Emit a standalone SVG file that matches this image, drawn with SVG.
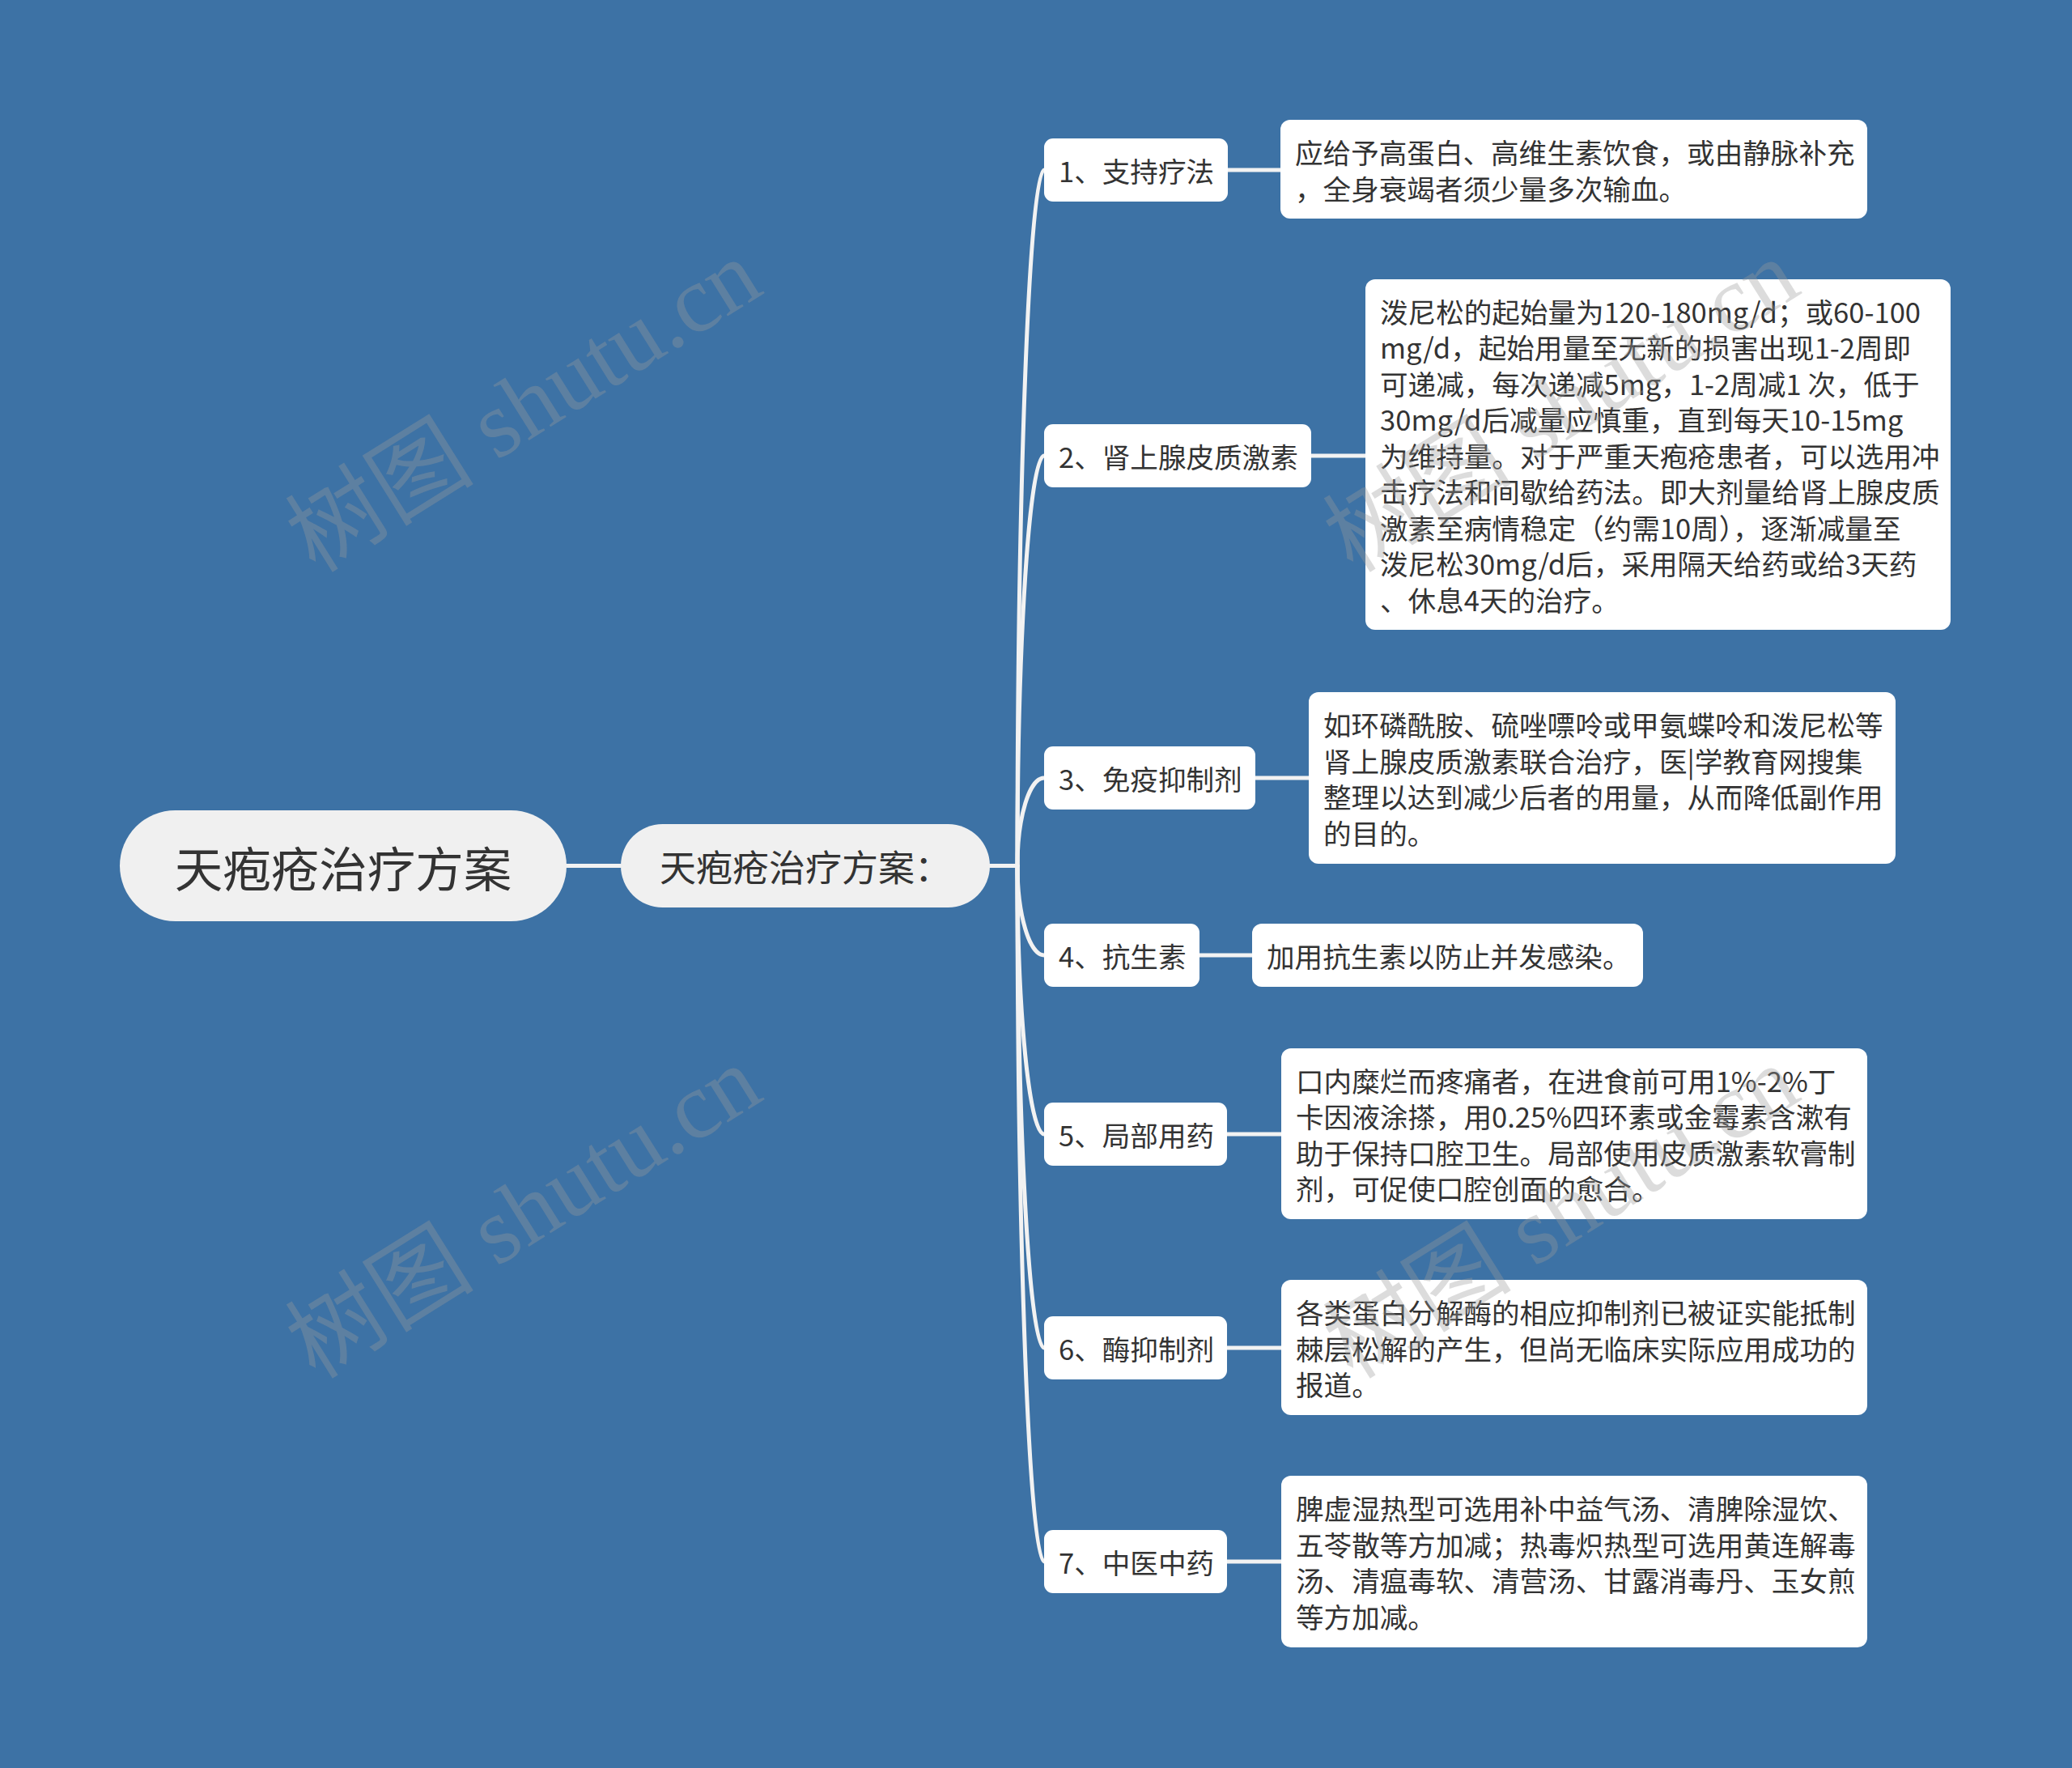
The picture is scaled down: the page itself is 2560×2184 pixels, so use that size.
<svg xmlns="http://www.w3.org/2000/svg" width="2560" height="2184" viewBox="0 0 2560 2184">
<style>
.t{font-family:"Noto Sans CJK SC","Noto Sans",sans-serif;fill:#333333;dominant-baseline:central}
.s{font-size:34.6px}
.n{fill:#ffffff}
.r{fill:#f0f0f0}
.c{fill:none;stroke:#f2f2f2;stroke-width:5;stroke-linecap:round}
.wm{font-family:"Liberation Serif","Noto Sans CJK SC",serif;font-size:117px;fill:#9a9a9a;fill-opacity:0.35}
</style>
<rect x="0" y="0" width="2560" height="2184" fill="#3d72a5"/>
<g id="connectors">
<path class="c" d="M700 1069.5 H767"/>
<path class="c" d="M1223 1069.5 H1257"/>
<path class="c" d="M1257 1069.5 C1257 595 1272 210 1290 210"/>
<path class="c" d="M1257 1069.5 C1257 790 1272 563 1290 563"/>
<path class="c" d="M1257 1069.5 C1257 1009 1272 961 1290 961"/>
<path class="c" d="M1257 1069.5 C1257 1130 1272 1180 1290 1180"/>
<path class="c" d="M1257 1069.5 C1257 1252 1272 1401 1290 1401"/>
<path class="c" d="M1257 1069.5 C1257 1398 1272 1665 1290 1665"/>
<path class="c" d="M1257 1069.5 C1257 1544 1272 1929 1290 1929"/>
<path class="c" d="M1517 210 H1582"/>
<path class="c" d="M1620 563 H1687"/>
<path class="c" d="M1551 961 H1617"/>
<path class="c" d="M1482 1180 H1547"/>
<path class="c" d="M1516 1401 H1583"/>
<path class="c" d="M1516 1665 H1583"/>
<path class="c" d="M1516 1929 H1583"/>
</g>
<g id="root">
<rect class="r" x="148" y="1001" width="552" height="137" rx="68.5"/>
<text class="t" x="424" y="1069.5" font-size="59.5" text-anchor="middle">天疱疮治疗方案</text>
</g>
<g id="sub">
<rect class="r" x="767" y="1018" width="456" height="103" rx="51.5"/>
<text class="t" x="995" y="1069.5" font-size="45" text-anchor="middle">天疱疮治疗方案：</text>
</g>
<g id="n1">
<rect class="n" x="1290" y="171" width="227" height="78" rx="11"/>
<text class="t s" x="1308" y="210">1、支持疗法</text>
</g>
<g id="n2">
<rect class="n" x="1290" y="524" width="330" height="78" rx="11"/>
<text class="t s" x="1308" y="563">2、肾上腺皮质激素</text>
</g>
<g id="n3">
<rect class="n" x="1290" y="922" width="261" height="78" rx="11"/>
<text class="t s" x="1308" y="961">3、免疫抑制剂</text>
</g>
<g id="n4">
<rect class="n" x="1290" y="1141" width="192" height="78" rx="11"/>
<text class="t s" x="1308" y="1180">4、抗生素</text>
</g>
<g id="n5">
<rect class="n" x="1290" y="1362" width="226" height="78" rx="11"/>
<text class="t s" x="1308" y="1401">5、局部用药</text>
</g>
<g id="n6">
<rect class="n" x="1290" y="1626" width="226" height="78" rx="11"/>
<text class="t s" x="1308" y="1665">6、酶抑制剂</text>
</g>
<g id="n7">
<rect class="n" x="1290" y="1890" width="226" height="78" rx="11"/>
<text class="t s" x="1308" y="1929">7、中医中药</text>
</g>
<g id="l1">
<rect class="n" x="1582" y="148" width="725" height="122" rx="12"/>
<text class="t s"><tspan x="1600" y="187">应给予高蛋白、高维生素饮食，或由静脉补充</tspan><tspan x="1600" y="231.5">，全身衰竭者须少量多次输血。</tspan></text>
</g>
<g id="l2">
<rect class="n" x="1687" y="345" width="723" height="433" rx="12"/>
<text class="t s"><tspan x="1705" y="383.5">泼尼松的起始量为120-180mg/d；或60-100</tspan><tspan x="1705" y="428">mg/d，起始用量至无新的损害出现1-2周即</tspan><tspan x="1705" y="472.5">可递减，每次递减5mg，1-2周减1 次，低于</tspan><tspan x="1705" y="517">30mg/d后减量应慎重，直到每天10-15mg</tspan><tspan x="1705" y="561.5">为维持量。对于严重天疱疮患者，可以选用冲</tspan><tspan x="1705" y="606">击疗法和间歇给药法。即大剂量给肾上腺皮质</tspan><tspan x="1705" y="650.5">激素至病情稳定（约需10周），逐渐减量至</tspan><tspan x="1705" y="695">泼尼松30mg/d后，采用隔天给药或给3天药</tspan><tspan x="1705" y="739.5">、休息4天的治疗。</tspan></text>
</g>
<g id="l3">
<rect class="n" x="1617" y="855" width="725" height="212" rx="12"/>
<text class="t s"><tspan x="1635" y="894.25">如环磷酰胺、硫唑嘌呤或甲氨蝶呤和泼尼松等</tspan><tspan x="1635" y="938.75">肾上腺皮质激素联合治疗，医|学教育网搜集</tspan><tspan x="1635" y="983.25">整理以达到减少后者的用量，从而降低副作用</tspan><tspan x="1635" y="1027.75">的目的。</tspan></text>
</g>
<g id="l4">
<rect class="n" x="1547" y="1141" width="483" height="78" rx="12"/>
<text class="t s" x="1565" y="1180">加用抗生素以防止并发感染。</text>
</g>
<g id="l5">
<rect class="n" x="1583" y="1295" width="724" height="211" rx="12"/>
<text class="t s"><tspan x="1601" y="1333.75">口内糜烂而疼痛者，在进食前可用1%-2%丁</tspan><tspan x="1601" y="1378.25">卡因液涂搽，用0.25%四环素或金霉素含漱有</tspan><tspan x="1601" y="1422.75">助于保持口腔卫生。局部使用皮质激素软膏制</tspan><tspan x="1601" y="1467.25">剂，可促使口腔创面的愈合。</tspan></text>
</g>
<g id="l6">
<rect class="n" x="1583" y="1581" width="724" height="167" rx="12"/>
<text class="t s"><tspan x="1601" y="1620">各类蛋白分解酶的相应抑制剂已被证实能抵制</tspan><tspan x="1601" y="1664.5">棘层松解的产生，但尚无临床实际应用成功的</tspan><tspan x="1601" y="1709">报道。</tspan></text>
</g>
<g id="l7">
<rect class="n" x="1583" y="1823" width="724" height="212" rx="12"/>
<text class="t s"><tspan x="1601" y="1862.25">脾虚湿热型可选用补中益气汤、清脾除湿饮、</tspan><tspan x="1601" y="1906.75">五苓散等方加减；热毒炽热型可选用黄连解毒</tspan><tspan x="1601" y="1951.25">汤、清瘟毒软、清营汤、甘露消毒丹、玉女煎</tspan><tspan x="1601" y="1995.75">等方加减。</tspan></text>
</g>
<g id="watermarks">
<text class="wm" text-anchor="middle" transform="translate(668 535) rotate(-32)">树图 shutu.cn</text>
<text class="wm" text-anchor="middle" transform="translate(668 1531) rotate(-32)">树图 shutu.cn</text>
<text class="wm" text-anchor="middle" transform="translate(1950 535) rotate(-32)">树图 shutu.cn</text>
<text class="wm" text-anchor="middle" transform="translate(1950 1531) rotate(-32)">树图 shutu.cn</text>
</g>
</svg>
